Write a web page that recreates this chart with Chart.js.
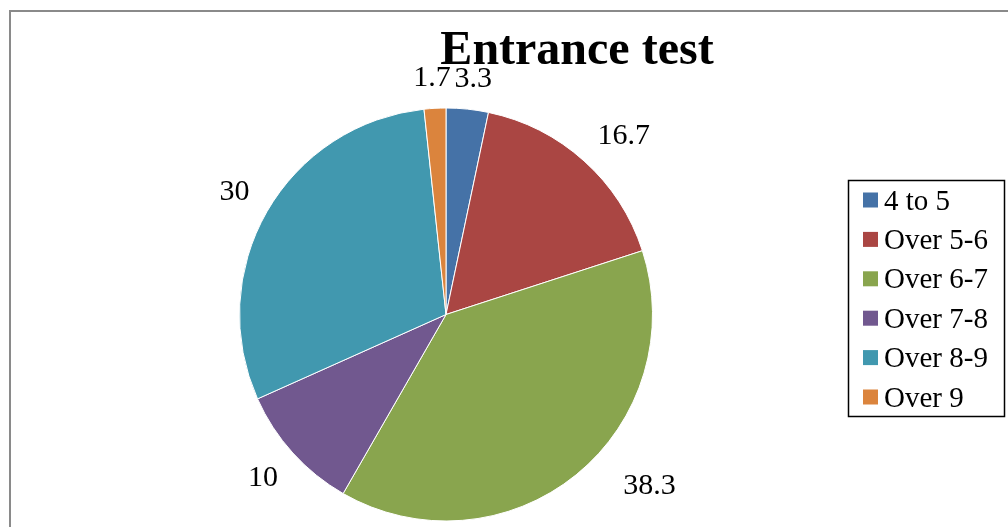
<!DOCTYPE html>
<html>
<head>
<meta charset="utf-8">
<script src="https://cdn.jsdelivr.net/npm/chart.js@4/dist/chart.umd.min.js"></script>
<style>
  html, body { margin: 0; padding: 0; background: #fff; overflow: hidden; }
  #frame {
    position: absolute; left: 9px; top: 10px; width: 1100px; height: 600px;
    border-left: 2px solid #8a8a8a; border-top: 2px solid #8a8a8a;
  }
  #chart { position: absolute; left: 0; top: 0; }
</style>
</head>
<body>
<div id="frame"></div>
<canvas id="chart" width="1008" height="527"></canvas>
<script>
'use strict';

// ── Data ──────────────────────────────────────────────────────────────────────
const titleText = 'Entrance test';
const categories = ['4 to 5', 'Over 5-6', 'Over 6-7', 'Over 7-8', 'Over 8-9', 'Over 9'];
const percents   = [3.3, 16.7, 38.3, 10, 30, 1.7];
const colors     = ['#4572A7', '#AA4643', '#89A54E', '#71588F', '#4198AF', '#DB843D'];

const FONT = '"Liberation Serif", "Times New Roman", serif';

function soft(v) { return Math.max(-1, Math.min(1, v * 2)); }

// ── Extras drawn on top: title, value labels, boxed legend ──────────────────
const extrasPlugin = {
  id: 'extras',
  afterDraw(chart) {
    const ctx = chart.ctx;
    const meta = chart.getDatasetMeta(0);

    ctx.save();
    ctx.fillStyle = '#000';

    // title
    ctx.font = 'bold 48px ' + FONT;
    ctx.textAlign = 'center';
    ctx.textBaseline = 'alphabetic';
    ctx.fillText(titleText, 577, 64);

    // value labels, outside end: nearest corner of the text box sits on the mid ray
    ctx.font = '30px ' + FONT;
    ctx.textBaseline = 'middle';
    const h = 22;
    meta.data.forEach((arc, i) => {
      const p = arc.getProps(['x', 'y', 'startAngle', 'endAngle', 'outerRadius'], true);
      const mid = (p.startAngle + p.endAngle) / 2;
      const txt = String(percents[i]);
      const w = ctx.measureText(txt).width;
      const dx = Math.cos(mid), dy = Math.sin(mid);
      let dist = p.outerRadius + 20;
      let x = p.x + dx * dist + soft(dx) * w / 2;
      let y = p.y + dy * dist + soft(dy) * h / 2;
      const maxY = chart.height - 31 - h / 2;
      if (y > maxY) {
        y = maxY;
        dist += 12;
        const cy = y - h / 2 - p.y;
        x = p.x + Math.sign(dx) * Math.sqrt(Math.max(dist * dist - cy * cy, 0)) + Math.sign(dx) * w / 2;
      }
      ctx.fillText(txt, x, y + 1);
    });

    // legend box
    const lx = 848, ly = 180, lw = 156, lh = 236;
    ctx.strokeStyle = '#000';
    ctx.lineWidth = 1.5;
    ctx.strokeRect(lx + 0.5, ly + 0.5, lw, lh);
    ctx.font = '29px ' + FONT;
    ctx.textAlign = 'left';
    categories.forEach((c, i) => {
      const cy = 200 + i * 39.4;
      ctx.fillStyle = colors[i];
      ctx.fillRect(863, cy - 7.5, 15, 15);
      ctx.fillStyle = '#000';
      ctx.fillText(c, 884, cy + 2);
    });
    ctx.restore();
  }
};

new Chart(document.getElementById('chart'), {
  type: 'pie',
  data: {
    labels: categories,
    datasets: [{
      data: percents,
      backgroundColor: colors,
      borderColor: '#ffffff',
      borderWidth: 1,
    }],
  },
  options: {
    responsive: false,
    animation: false,
    layout: { padding: { left: 239, right: 355, top: 107, bottom: 5 } },
    plugins: {
      legend: { display: false },
      title: { display: false },
      tooltip: { enabled: false },
    },
  },
  plugins: [extrasPlugin],
});
</script>
</body>
</html>
